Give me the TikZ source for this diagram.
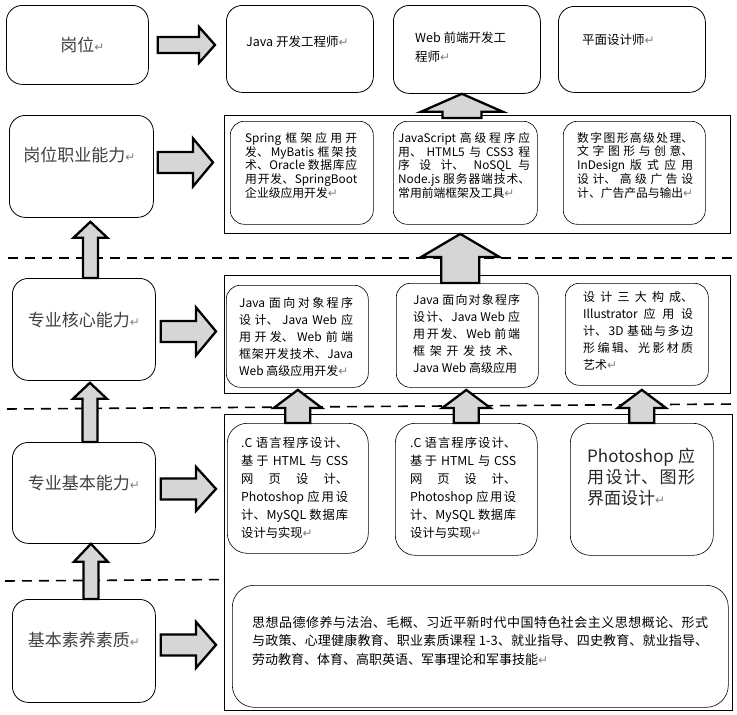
\documentclass[tikz,border=0pt]{standalone}
\usepackage{fontspec}
\setmainfont{Noto Sans CJK SC}
\newfontfamily\dejavu{DejaVu Sans}
\usetikzlibrary{calc}
\XeTeXlinebreaklocale "zh"
\XeTeXlinebreakskip=0pt plus 3pt minus 0.5pt
\newcommand\ret{{\dejavu\color{black!50}\fontsize{12}{12}\selectfont ↵}}
\tikzset{
  bx/.style={anchor=north west, inner sep=0pt, fill=white},
  lbox/.style={bx, draw, rounded corners=16pt, line width=0.8pt},
  ibox/.style={bx, draw, rounded corners=14pt, line width=0.6pt},
  obox/.style={bx, draw, line width=0.9pt},
  ltext/.style={text=black!75, font=\fontsize{17}{19}\selectfont, inner sep=0pt},
  txt/.style={inner sep=0pt, align=justify, anchor=north west},
  blk/.style={draw, line width=2.3pt, fill=black!16, line join=miter},
  dashline/.style={dash pattern=on 10pt off 7pt, line width=1.6pt},
}
% up block arrow: base, tip, shaft half-width, head half-width, head length
\newcommand\blkup[5]{\draw[blk] let \p1=#1, \p2=#2 in
  (\x2-#3,\y1) -- (\x2-#3,\y2-#5) -- (\x2-#4,\y2-#5) -- (\x2,\y2) --
  (\x2+#4,\y2-#5) -- (\x2+#3,\y2-#5) -- (\x2+#3,\y1) -- cycle;}
% right block arrow: base, tip, shaft half-height, head half-height, head length
\newcommand\blkright[5]{\draw[blk] let \p1=#1, \p2=#2 in
  (\x1,\y1+#3) -- (\x2-#5,\y1+#3) -- (\x2-#5,\y1+#4) -- (\x2,\y1) --
  (\x2-#5,\y1-#4) -- (\x2-#5,\y1-#3) -- (\x1,\y1-#3) -- cycle;}
\begin{document}
\begin{tikzpicture}[x=1pt,y=-1pt]
\useasboundingbox (0,0) rectangle (737,715);
% dashed separators
\coordinate (d1a) at (8,258); \coordinate (d1b) at (737,258);
\coordinate (d2a) at (7,409); \coordinate (d2b) at (737,404);
\coordinate (d3a) at (5,581); \coordinate (d3b) at (300,579);
\draw[dashline] (d1a) -- (d1b);
\draw[dashline] (d2a) -- (d2b);
\draw[dashline] (d3a) -- (d3b);
% left column
\node[lbox, minimum width=142pt, minimum height=79pt] (L0) at (6,5) {};
\node[lbox, minimum width=144pt, minimum height=102pt] (L1) at (9,115) {};
\node[lbox, minimum width=143pt, minimum height=102pt] (L2) at (12,278) {};
\node[lbox, minimum width=143pt, minimum height=101pt] (L3) at (12,442) {};
\node[lbox, minimum width=143pt, minimum height=103pt] (L4) at (12,599) {};
\node[ltext] (L0t) at ($(L0.north)+(5,40)$) {岗位\ret};
\node[ltext] (L1t) at ($(L1.north)+(-2,40)$) {岗位职业能力\ret};
\node[ltext] (L2t) at ($(L2.north)+(0,42)$) {专业核心能力\ret};
\node[ltext] (L3t) at ($(L3.north)+(0,41)$) {专业基本能力\ret};
\node[ltext] (L4t) at ($(L4.north)+(0,41)$) {基本素养素质\ret};
% top row
\node[lbox, minimum width=147pt, minimum height=87pt] (T1) at (226,5) {};
\node[lbox, minimum width=147pt, minimum height=88pt] (T2) at (393,5) {};
\node[lbox, minimum width=147pt, minimum height=86pt] (T3) at (558,6) {};
\node[txt, align=left, font=\fontsize{12.5}{19}\selectfont] (T1t) at (246,36) {Java 开发工程师\ret};
\node[txt, align=left, font=\fontsize{12.5}{19}\selectfont] (T2t) at (415,32) {Web 前端开发工\\程师\ret};
\node[txt, align=left, font=\fontsize{12.5}{19}\selectfont] (T3t) at (582,34) {平面设计师\ret};
% row 2
\node[obox, minimum width=506pt, minimum height=118pt] (O2) at (224,115) {};
\node[ibox, minimum width=143pt, minimum height=103pt] (A1) at (230,121) {};
\node[ibox, minimum width=144pt, minimum height=103pt] (A2) at (393,121) {};
\node[ibox, minimum width=142pt, minimum height=103pt] (A3) at (563,121) {};
\begin{scope}[every node/.append style={font=\fontsize{11.8}{13.8}\selectfont}]
\node[txt, text width=112pt] (A1t) at (245,132) {Spring 框架应用开\linebreak 发、MyBatis 框架技\linebreak 术、Oracle 数据库应\linebreak 用开发、SpringBoot\linebreak 企业级应用开发\ret};
\node[txt, text width=132pt] (A2t) at (398,132) {JavaScript 高级程序应\linebreak 用、HTML5 与 CSS3 程\linebreak 序设计、NoSQL 与\linebreak Node.js 服务器端技术、\linebreak 常用前端框架及工具\ret};
\node[txt, text width=116pt] (A3t) at (577,132) {数字图形高级处理、\linebreak 文字图形与创意、\linebreak InDesign 版式应用\linebreak 设计、高级广告设\linebreak 计、广告产品与输出\ret};
\end{scope}
% row 3
\node[obox, minimum width=506pt, minimum height=118pt] (O3) at (224,275) {};
\node[ibox, minimum width=142pt, minimum height=102pt] (B1) at (226,285) {};
\node[ibox, minimum width=142pt, minimum height=104pt] (B2) at (396,283) {};
\node[ibox, minimum width=143pt, minimum height=102pt] (B3) at (565,283) {};
\begin{scope}[every node/.append style={font=\fontsize{12}{17}\selectfont}]
\node[txt, text width=114pt] (B1t) at (239,297) {Java 面向对象程序\linebreak 设计、Java Web 应\linebreak 用开发、Web 前端\linebreak 框架开发技术、Java\linebreak Web 高级应用开发\ret};
\node[txt, text width=107pt] (B2t) at (413,294) {Java 面向对象程序\linebreak 设计、Java Web 应\linebreak 用开发、Web 前端\linebreak 框架开发技术、\linebreak Java Web 高级应用};
\node[txt, text width=110pt] (B3t) at (583,291) {设计三大构成、\linebreak Illustrator 应用设\linebreak 计、3D 基础与多边\linebreak 形编辑、光影材质\linebreak 艺术\ret};
\end{scope}
% rows 4-5 outer
\node[obox, minimum width=508pt, minimum height=296pt] (O4) at (224,414) {};
\node[ibox, rounded corners=20pt, minimum width=141pt, minimum height=130pt] (C1) at (227,423) {};
\node[ibox, rounded corners=20pt, minimum width=142pt, minimum height=132pt] (C2) at (395,423) {};
\node[ibox, rounded corners=20pt, minimum width=143pt, minimum height=132pt] (C3) at (570,423) {};
\begin{scope}[every node/.append style={font=\fontsize{12.3}{18}\selectfont}]
\node[txt, text width=107pt] (C1t) at (241,437) {.C 语言程序设计、\linebreak 基于 HTML 与 CSS\linebreak 网页设计、\linebreak Photoshop 应用设\linebreak 计、MySQL 数据库\linebreak 设计与实现\ret};
\node[txt, text width=106pt] (C2t) at (410,437) {.C 语言程序设计、\linebreak 基于 HTML 与 CSS\linebreak 网页设计、\linebreak Photoshop 应用设\linebreak 计、MySQL 数据库\linebreak 设计与实现\ret};
\end{scope}
\node[txt, text width=108pt, font=\fontsize{17}{21}\selectfont, text=black!85] (C3t) at (587,448) {Photoshop 应\linebreak 用设计、图形\linebreak 界面设计\ret};
\node[ibox, rounded corners=22pt, minimum width=496pt, minimum height=122pt] (D1) at (232,585) {};
\node[txt, text width=456pt, font=\fontsize{13}{18.5}\selectfont] (D1t) at (252,616) {思想品德修养与法治、毛概、习近平新时代中国特色社会主义思想概论、形式\linebreak 与政策、心理健康教育、职业素质课程 1-3、就业指导、四史教育、就业指导、\linebreak 劳动教育、体育、高职英语、军事理论和军事技能\ret};
% left vertical arrows
\blkup{($(L2.north)+(7,0)$)}{($(L1.south)+(9,4)$)}{7.5pt}{17pt}{16pt}
\blkup{($(L3.north)+(7,0)$)}{($(L2.south)+(6,2)$)}{7.5pt}{17pt}{16pt}
\blkup{($(L4.north)+(7,0)$)}{($(L3.south)+(7,0)$)}{7.5pt}{17pt}{18pt}
% right arrows
\blkright{($(L0.east)+(9,0)$)}{($(T1.west)+(-11,0)$)}{8pt}{18pt}{16pt}
\blkright{($(L1.east)+(4,-4)$)}{($(O2.west)+(-11,0)$)}{10.5pt}{24pt}{20pt}
\blkright{($(L2.east)+(5,2)$)}{($(O3.west)+(-8,0)$)}{10.5pt}{24pt}{20pt}
\blkright{($(L3.east)+(5,-4)$)}{($(O4.west)+(-8,0)$)}{10.5pt}{22pt}{20pt}
\blkright{($(L4.east)+(5,-6)$)}{($(O4.west)+(-8,0)$)}{10.5pt}{23pt}{20pt}
% inner up arrows
\blkup{($(A2.north)+(-4,-3)$)}{($(T2.south)+(-5,0)$)}{19.5pt}{41pt}{18pt}
\blkup{($(B2.north)+(-7,0)$)}{($(O2.south -| B2.north)+(-7,0)$)}{19pt}{39pt}{23pt}
\blkup{(C1.north)}{($(O3.south -| C1.north)+(0,-4)$)}{12.5pt}{24pt}{18pt}
\blkup{(C2.north)}{($(O3.south -| C2.north)+(0,-4)$)}{12.5pt}{24pt}{18pt}
\blkup{(C3.north)}{($(O3.south -| C3.north)+(0,-4)$)}{12.5pt}{24pt}{18pt}
\end{tikzpicture}
\end{document}
